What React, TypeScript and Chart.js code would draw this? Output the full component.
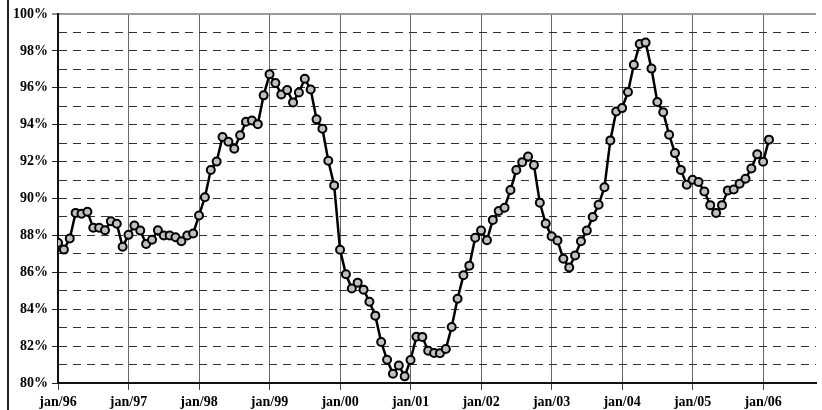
import React, { useEffect, useRef } from "react";
import { Chart, registerables } from "chart.js";

Chart.register(...registerables);

// Monthly values, jan/96 .. feb/06 (index 0 = jan/96)
const values: number[] = [
  87.6, 87.23, 87.83, 89.22, 89.17, 89.28, 88.41, 88.41, 88.28, 88.77, 88.63, 87.38,
  88.03, 88.53, 88.26, 87.54, 87.76, 88.28, 87.99, 87.99, 87.9, 87.68, 87.99, 88.1,
  89.08, 90.07, 91.54, 92.0, 93.33, 93.08, 92.7, 93.43, 94.16, 94.23, 94.03, 95.59,
  96.73, 96.26, 95.64, 95.88, 95.21, 95.75, 96.49, 95.91, 94.29, 93.78, 92.05, 90.71,
  87.22, 85.89, 85.12, 85.44, 85.06, 84.4, 83.65, 82.22, 81.26, 80.5, 80.95, 80.36,
  81.25, 82.51, 82.5, 81.75, 81.63, 81.61, 81.84, 83.04, 84.57, 85.84, 86.36, 87.87,
  88.26, 87.74, 88.84, 89.32, 89.5, 90.46, 91.54, 91.97, 92.28, 91.81, 89.77, 88.64,
  87.95, 87.72, 86.73, 86.26, 86.91, 87.68, 88.26, 89.0, 89.66, 90.61, 93.15, 94.72,
  94.9, 95.77, 97.25, 98.37, 98.45, 97.04, 95.23, 94.67, 93.46, 92.46, 91.55, 90.75,
  91.02, 90.89, 90.38, 89.64, 89.22, 89.64, 90.44, 90.49, 90.8, 91.07, 91.63, 92.4,
  91.99, 93.19,
];

const xTickLabels: string[] = [
  "jan/96", "jan/97", "jan/98", "jan/99", "jan/00", "jan/01",
  "jan/02", "jan/03", "jan/04", "jan/05", "jan/06",
];
const monthsPerYear = 12;
const xMax = 129;

const yMin = 80;
const yMax = 100;
const yGridValues: number[] = [80, 81, 82, 83, 84, 85, 86, 87, 88, 89, 90, 91, 92, 93, 94, 95, 96, 97, 98, 99, 100];

const FONT = { family: "'Times New Roman', 'Liberation Serif', serif", size: 14, weight: "bold" as const };

export default function App() {
  const ref = useRef<HTMLCanvasElement | null>(null);

  useEffect(() => {
    if (!ref.current) return;
    const frame = {
      id: "frame",
      afterDraw(chart: any) {
        const c = chart.ctx;
        c.save();
        c.fillStyle = "#222";
        c.fillRect(7, 0, 2, 410);
        c.restore();
      },
    };
    const chart = new Chart(ref.current, {
      type: "line",
      data: {
        datasets: [
          {
            data: values.map((v, i) => ({ x: i, y: v })),
            borderColor: "#000",
            borderWidth: 2.5,
            pointRadius: 4,
            pointBorderWidth: 2,
            pointBackgroundColor: "#c0c0c0",
            pointBorderColor: "#000",
            tension: 0,
          },
        ],
      },
      options: {
        animation: false,
        responsive: false,
        devicePixelRatio: 1,
        layout: { padding: { left: 8, top: 14, right: 0, bottom: 0 } },
        plugins: { legend: { display: false }, tooltip: { enabled: false }, title: { display: false } },
        scales: {
          x: {
            type: "linear",
            min: 0,
            max: xMax,
            afterBuildTicks: (axis: any) => {
              axis.ticks = xTickLabels.map((_, i) => ({ value: i * monthsPerYear }));
            },
            afterFit: (axis: any) => {
              axis.height = 27;
              axis.paddingLeft = 0;
              axis.paddingRight = 0;
            },
            ticks: {
              autoSkip: false,
              maxRotation: 0,
              color: "#000",
              font: FONT,
              padding: 4,
              callback: (v: any) => xTickLabels[Math.round(Number(v) / monthsPerYear)] ?? "",
            },
            grid: {
              color: "#666",
              lineWidth: 1,
              tickLength: 7,
              tickColor: "#444",
              tickWidth: 1,
            },
            border: { color: "#111", width: 2 },
          },
          y: {
            type: "linear",
            min: yMin,
            max: yMax,
            afterBuildTicks: (axis: any) => {
              axis.ticks = yGridValues.map((v) => ({ value: v }));
            },
            afterFit: (axis: any) => {
              axis.width = 50;
              axis.paddingTop = 0;
              axis.paddingBottom = 0;
            },
            ticks: {
              autoSkip: false,
              color: "#000",
              font: FONT,
              padding: 4,
              callback: (v: any) => (Number(v) % 2 === 0 ? `${v}%` : ""),
            },
            grid: {
              color: (ctx: any) =>
                ctx.tick && ctx.tick.value === 100 ? "#999" : ctx.tick && ctx.tick.value === 80 ? "rgba(0,0,0,0)" : "#333",
              lineWidth: (ctx: any) => (ctx.tick && ctx.tick.value === 100 ? 2 : 1),
              tickLength: 6,
              tickColor: (ctx: any) => (ctx.tick && ctx.tick.value % 2 === 0 ? "#222" : "rgba(0,0,0,0)"),
              tickWidth: 1,
            },
            border: {
              color: "#111",
              width: 2,
              dash: (ctx: any) => (ctx.tick && ctx.tick.value === 100 ? [] : [8, 6]),
            },
          },
        },
      },
      plugins: [frame],
    } as any);
    return () => chart.destroy();
  }, []);

  return (
    <div style={{ position: "fixed", left: 0, top: 0, width: 822, height: 410, background: "#fff" }}>
      <canvas ref={ref} width={822} height={410} style={{ width: 822, height: 410, display: "block" }} />
    </div>
  );
}
